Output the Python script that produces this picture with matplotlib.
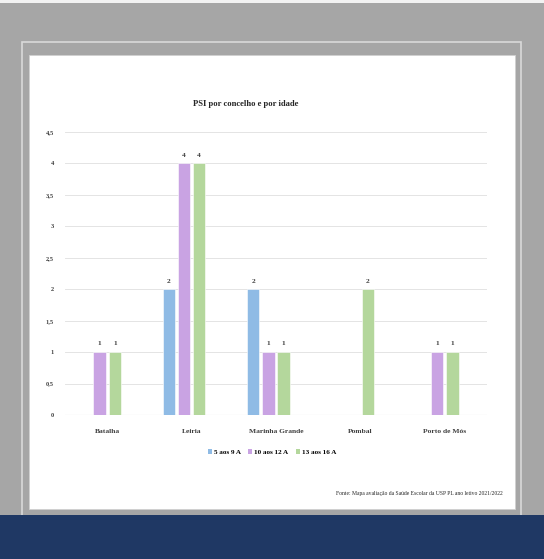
import matplotlib.pyplot as plt
from matplotlib.patches import Rectangle, Patch
import numpy as np

# dados do gráfico
concelhos = ["Batalha", "Leiria", "Marinha Grande", "Pombal", "Porto de Mós"]
idades = ["5 aos 9 A", "10 aos 12 A", "13 aos 16 A"]
psi_5_9 = [0, 2, 2, 0, 0]
psi_10_12 = [1, 4, 1, 0, 1]
psi_13_16 = [1, 4, 1, 2, 1]
y_ticks = [0, 0.5, 1, 1.5, 2, 2.5, 3, 3.5, 4, 4.5]

cores = ["#8fbbe5", "#c9a3e3", "#b4d79c"]
fonte = "Liberation Serif"

W, H = 544, 559
fig = plt.figure(figsize=(W / 100, H / 100), dpi=100, facecolor="#a6a6a6")


def px_rect(x0, y0, x1, y1, **kw):
    # retângulo em pixels (origem no canto superior esquerdo)
    return Rectangle((x0 / W, 1 - y1 / H), (x1 - x0) / W, (y1 - y0) / H,
                     transform=fig.transFigure, figure=fig, zorder=-5, **kw)


fig.patches.extend([
    px_rect(0, 0, W, 3, facecolor="#f2f2f2", edgecolor="none"),
    px_rect(22, 42, 521, 530, facecolor="none", edgecolor="#d9d9d9", lw=1.2),
    px_rect(29, 55, 515, 509, facecolor="white", edgecolor="#d0d0d0", lw=0.6),
    px_rect(0, 515, W, H, facecolor="#1f3864", edgecolor="none"),
])

ax = fig.add_axes([65 / W, 1 - 415 / H, (487 - 65) / W, (415 - 132) / H])
ax.set_facecolor("none")
ax.set_zorder(2)

x = np.arange(len(concelhos))
largura = 0.148
desvios = [-0.27, -0.09, 0.09]
series = [psi_5_9, psi_10_12, psi_13_16]

for serie, cor, d in zip(series, cores, desvios):
    for xi, v in zip(x, serie):
        if v == 0:
            continue
        ax.bar(xi + d, v, width=largura, color=cor, edgecolor="white", lw=0.4, zorder=3)
        ax.text(xi + d, v + 0.09, f"{v}", ha="center", va="bottom",
                fontsize=5.3, fontweight="bold", family=fonte, color="#404040")

ax.set_xlim(-0.5, len(concelhos) - 0.5)
ax.set_ylim(0, 4.5)
ax.set_yticks(y_ticks)
ax.set_yticklabels([f"{t:g}".replace(".", ",") for t in y_ticks],
                   fontsize=4.6, fontweight="bold", family=fonte, color="#404040")
ax.set_xticks(x)
ax.set_xticklabels(concelhos, fontsize=5.4, fontweight="bold", family=fonte, color="#404040")
ax.tick_params(axis="both", length=0)
ax.tick_params(axis="y", pad=8)
ax.tick_params(axis="x", pad=10)
ax.grid(axis="y", color="#e4e4e4", lw=0.7, zorder=0)
for s in ax.spines.values():
    s.set_visible(False)
ax.axhline(0, color="#d9d9d9", lw=0.8, zorder=2)

fig.text(246 / W, 1 - 104 / H, "PSI por concelho e por idade", ha="center", va="center",
         fontsize=6.2, fontweight="bold", family=fonte, color="#262626")

handles = [Patch(facecolor=c, edgecolor="none") for c in cores]
fig.legend(handles, idades, loc="center", bbox_to_anchor=(272 / W, 1 - 452 / H),
           ncol=3, frameon=False, handlelength=0.6, handleheight=0.6,
           handletextpad=0.3, columnspacing=1.0,
           prop={"family": fonte, "weight": "bold", "size": 5.1})

fig.text(503 / W, 1 - 493 / H,
         "Fonte: Mapa avaliação da Saúde Escolar da USP PL ano letivo 2021/2022",
         ha="right", va="center", fontsize=4.1, family=fonte, color="#262626")

fig.savefig("out.png", dpi=100, facecolor=fig.get_facecolor())
